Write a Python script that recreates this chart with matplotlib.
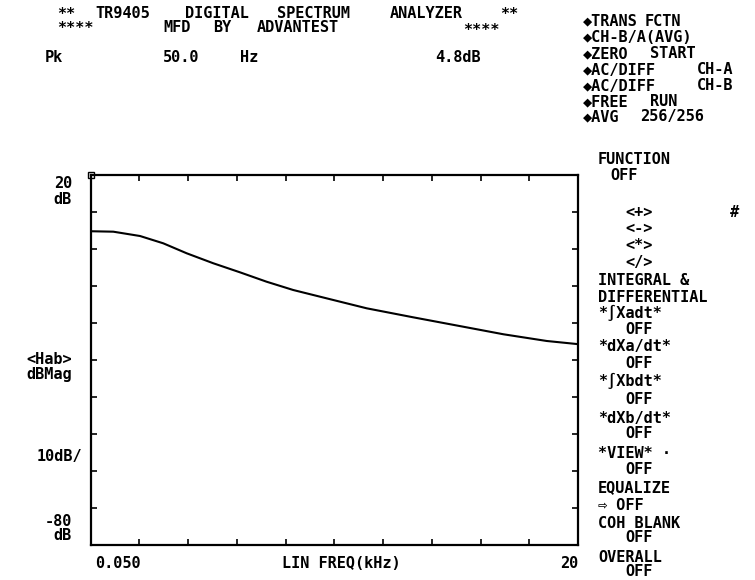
import numpy as np
import matplotlib.pyplot as plt

# transfer function magnitude
freq_khz = [0.05, 0.975, 2.07, 3.02, 3.98, 5.07, 6.16, 7.25, 8.34, 9.98,
            11.35, 13.25, 15.3, 16.95, 18.72, 19.95]
mag_db = [4.8, 4.68, 3.51, 1.54, -1.16, -3.86, -6.3, -8.84, -11.08, -13.78,
          -16.03, -18.46, -21.0, -23.05, -24.86, -25.68]

x_start, x_stop = 0.05, 20.0
y_top, y_bottom = 20, -80

# printer header, word by word (text, x px, y px)
header_rows = [
    ("**", 57, 14), ("TR9405", 95, 14), ("DIGITAL", 185, 14),
    ("SPECTRUM", 277, 14), ("ANALYZER", 390, 14), ("**", 500, 15),
    ("****", 57, 28), ("MFD", 163, 28), ("BY", 213, 28),
    ("ADVANTEST", 257, 28), ("****", 463, 30),
    ("Pk", 45, 57), ("50.0", 163, 57), ("Hz", 240, 57), ("4.8dB", 435, 57),
]

panel_rows = [
    ("◆TRANS", 583, 21), ("FCTN", 645, 21),
    ("◆CH-B/A(AVG)", 583, 38),
    ("◆ZERO", 583, 54), ("START", 650, 54),
    ("◆AC/DIFF", 583, 70), ("CH-A", 697, 70),
    ("◆AC/DIFF", 583, 86), ("CH-B", 697, 86),
    ("◆FREE", 583, 102), ("RUN", 650, 102),
    ("◆AVG", 583, 117), ("256/256", 640, 117),
    ("FUNCTION", 598, 160),
    ("OFF", 610, 175),
    ("<+>", 625, 212),
    ("#", 730, 212),
    ("<->", 625, 228),
    ("<*>", 625, 245),
    ("</>", 625, 262),
    ("INTEGRAL &", 598, 280),
    ("DIFFERENTIAL", 598, 297),
    ("*∫Xadt*", 598, 313),
    ("OFF", 625, 330),
    ("*dXa/dt*", 598, 347),
    ("OFF", 625, 363),
    ("*∫Xbdt*", 598, 381),
    ("OFF", 625, 399),
    ("*dXb/dt*", 598, 418),
    ("OFF", 625, 434),
    ("*VIEW* ·", 598, 453),
    ("OFF", 625, 470),
    ("EQUALIZE", 598, 488),
    ("⇨ OFF", 598, 506),
    ("COH BLANK", 598, 523),
    ("OFF", 625, 538),
    ("OVERALL", 598, 557),
    ("OFF", 625, 572),
]

W, H = 755, 580
fig = plt.figure(figsize=(7.55, 5.8), dpi=100)
fig.patch.set_facecolor('white')
mono = ['DejaVu Sans Mono', 'DejaVu Sans']
fs = 11


def put(s, px, py, ha='left'):
    fig.text(px / W, 1 - py / H, s, ha=ha, va='center', fontsize=fs,
             family=mono, fontweight='bold', color='black')


for s, px, py in header_rows + panel_rows:
    put(s, px, py)

# left and bottom annotations
put("20", 72, 184, ha='right')
put("dB", 72, 199, ha='right')
put("<Hab>", 72, 360, ha='right')
put("dBMag", 72, 375, ha='right')
put("10dB/", 82, 457, ha='right')
put("-80", 72, 521, ha='right')
put("dB", 72, 536, ha='right')
put("0.050", 95, 564)
put("LIN FREQ(kHz)", 341, 564, ha='center')
put("20", 578, 564, ha='right')

ax = fig.add_axes([90.7 / W, 1 - 545 / H, (578 - 90.7) / W, (545 - 175) / H])
ax.plot(freq_khz, mag_db, color='black', lw=1.5)
ax.plot([freq_khz[0]], [y_top], marker='s', ms=4, mfc='white', mec='black',
        mew=1, clip_on=False)
ax.set_xlim(x_start, x_stop)
ax.set_ylim(y_bottom, y_top)
ax.set_xticks(np.linspace(x_start, x_stop, 11))
ax.set_yticks(np.arange(y_bottom, y_top + 1, 10))
ax.tick_params(direction='in', length=4, width=1.2, top=True, right=True,
               labelbottom=False, labelleft=False)
for sp in ax.spines.values():
    sp.set_linewidth(1.6)
    sp.set_color('black')

fig.savefig('out.png', dpi=100, facecolor='white')
